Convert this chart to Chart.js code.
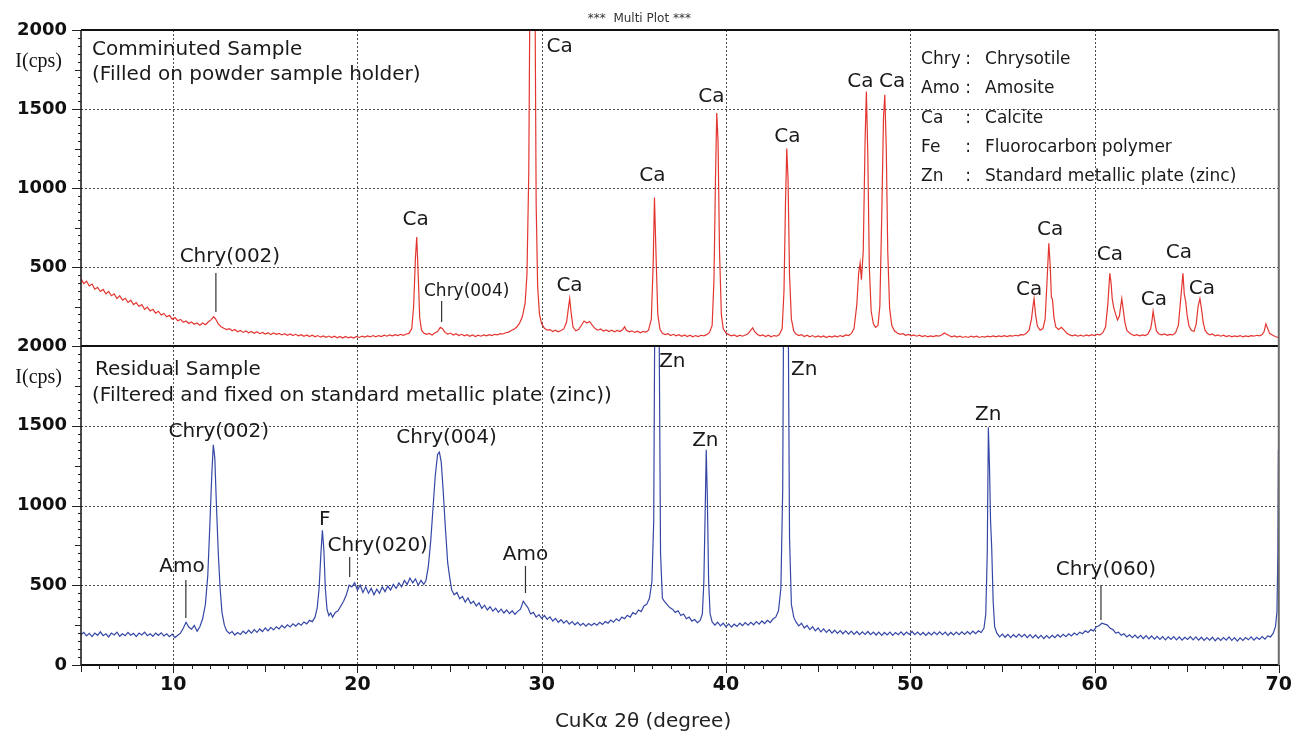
<!DOCTYPE html>
<html><head><meta charset="utf-8">
<script src="https://cdn.jsdelivr.net/npm/chart.js@4.4.1/dist/chart.umd.min.js"></script>
<style>html,body{margin:0;padding:0;background:#fff;}#wrap{width:1301px;height:735px;position:relative;}</style>
</head><body><div id="wrap"><canvas id="c"></canvas></div>
<script>
// ---- Data (2θ in degrees, intensity in cps) ----
const comminutedPattern = [
[5.0,425],[5.15,395],[5.3,410],[5.45,380],[5.6,392],[5.75,360],[5.9,372],[6.05,345],[6.2,358],[6.35,330],[6.5,346],[6.65,318],[6.8,330],[6.95,300],[7.1,318],[7.25,290],[7.4,302],[7.55,276],[7.7,290],[7.85,262],[8.0,275],[8.15,250],[8.3,262],[8.45,232],[8.6,246],[8.75,222],[8.9,232],[9.05,208],[9.2,220],[9.35,196],[9.5,206],[9.65,185],[9.8,194],[9.95,170],[10.1,180],[10.25,160],[10.4,168],[10.55,150],[10.7,158],[10.85,142],[11.0,152],[11.15,138],[11.3,146],[11.45,132],[11.6,145],[11.75,135],[11.9,152],[12.05,165],[12.2,185],[12.3,172],[12.45,140],[12.6,122],[12.75,112],[12.9,104],[13.05,110],[13.2,96],[13.35,104],[13.5,90],[13.65,98],[13.8,86],[13.95,95],[14.1,84],[14.25,92],[14.4,80],[14.55,90],[14.7,78],[14.85,86],[15.0,76],[15.15,84],[15.3,72],[15.45,82],[15.6,74],[15.75,80],[15.9,70],[16.05,78],[16.2,68],[16.35,76],[16.5,66],[16.65,74],[16.8,64],[16.95,72],[17.1,62],[17.25,70],[17.4,60],[17.55,68],[17.7,58],[17.85,66],[18.0,56],[18.15,64],[18.3,55],[18.45,63],[18.6,54],[18.75,62],[18.9,52],[19.05,60],[19.2,50],[19.35,60],[19.5,52],[19.65,58],[19.8,50],[19.95,60],[20.1,54],[20.25,62],[20.4,56],[20.55,64],[20.7,58],[20.85,66],[21.0,58],[21.15,66],[21.3,60],[21.45,68],[21.6,62],[21.75,70],[21.9,64],[22.05,72],[22.2,66],[22.35,74],[22.5,68],[22.65,76],[22.8,80],[22.95,110],[23.05,250],[23.15,560],[23.22,690],[23.3,450],[23.38,180],[23.48,100],[23.6,82],[23.75,74],[23.9,80],[24.05,70],[24.2,82],[24.35,92],[24.5,118],[24.62,110],[24.75,86],[24.9,76],[25.05,82],[25.2,70],[25.35,78],[25.5,66],[25.65,74],[25.8,64],[25.95,72],[26.1,62],[26.25,70],[26.4,60],[26.55,68],[26.7,62],[26.85,70],[27.0,64],[27.15,72],[27.3,66],[27.45,74],[27.6,70],[27.75,78],[27.9,76],[28.05,84],[28.2,88],[28.35,98],[28.5,106],[28.65,120],[28.8,145],[28.95,185],[29.1,270],[29.2,450],[29.3,1100],[29.38,2600],[29.45,5000],[29.55,5000],[29.62,2600],[29.7,900],[29.78,380],[29.88,200],[30.0,140],[30.15,112],[30.3,100],[30.45,104],[30.6,92],[30.75,100],[30.9,90],[31.05,98],[31.2,108],[31.35,150],[31.45,240],[31.52,300],[31.6,210],[31.7,120],[31.85,96],[32.0,104],[32.15,130],[32.3,158],[32.45,145],[32.6,155],[32.75,130],[32.9,110],[33.05,100],[33.2,108],[33.35,94],[33.5,102],[33.65,92],[33.8,100],[33.95,90],[34.1,98],[34.25,92],[34.4,104],[34.5,122],[34.6,100],[34.75,90],[34.9,96],[35.05,86],[35.2,94],[35.35,84],[35.5,92],[35.65,88],[35.8,100],[35.95,170],[36.05,520],[36.12,940],[36.2,600],[36.3,200],[36.42,105],[36.55,80],[36.7,72],[36.85,78],[37.0,66],[37.15,74],[37.3,64],[37.45,72],[37.6,62],[37.75,70],[37.9,60],[38.05,68],[38.2,58],[38.35,66],[38.5,60],[38.65,68],[38.8,64],[38.95,72],[39.1,84],[39.25,130],[39.35,420],[39.43,1050],[39.5,1475],[39.57,1300],[39.65,600],[39.75,200],[39.85,110],[40.0,82],[40.15,72],[40.3,64],[40.45,70],[40.6,60],[40.75,68],[40.9,62],[41.05,70],[41.2,78],[41.35,100],[41.45,115],[41.55,92],[41.7,74],[41.85,64],[42.0,70],[42.15,60],[42.3,68],[42.45,58],[42.6,66],[42.75,62],[42.9,72],[43.05,110],[43.15,350],[43.23,900],[43.3,1250],[43.37,1050],[43.45,450],[43.55,170],[43.68,95],[43.8,75],[43.95,66],[44.1,72],[44.25,60],[44.4,68],[44.55,58],[44.7,66],[44.85,56],[45.0,64],[45.15,56],[45.3,64],[45.45,54],[45.6,62],[45.75,56],[45.9,64],[46.05,58],[46.2,66],[46.35,60],[46.5,70],[46.65,66],[46.8,78],[46.95,110],[47.1,260],[47.2,460],[47.28,525],[47.35,420],[47.45,600],[47.55,1300],[47.62,1610],[47.7,1200],[47.78,500],[47.88,220],[48.0,140],[48.12,118],[48.25,130],[48.35,250],[48.45,800],[48.55,1450],[48.62,1590],[48.7,1250],[48.78,600],[48.88,240],[49.0,130],[49.15,95],[49.3,82],[49.45,74],[49.6,78],[49.75,68],[49.9,74],[50.05,64],[50.2,70],[50.35,62],[50.5,68],[50.65,60],[50.8,66],[50.95,58],[51.1,64],[51.25,60],[51.4,66],[51.55,62],[51.7,70],[51.85,82],[51.95,76],[52.1,66],[52.25,58],[52.4,64],[52.55,56],[52.7,62],[52.85,54],[53.0,60],[53.15,54],[53.3,62],[53.45,56],[53.6,62],[53.75,54],[53.9,60],[54.05,56],[54.2,62],[54.35,58],[54.5,64],[54.65,58],[54.8,64],[54.95,60],[55.1,66],[55.25,60],[55.4,66],[55.55,62],[55.7,68],[55.85,64],[56.0,72],[56.15,70],[56.3,80],[56.45,100],[56.58,170],[56.66,250],[56.72,300],[56.8,200],[56.9,125],[57.05,100],[57.2,110],[57.32,170],[57.42,400],[57.52,650],[57.6,500],[57.66,310],[57.72,295],[57.8,180],[57.9,120],[58.05,104],[58.2,118],[58.35,100],[58.5,80],[58.65,70],[58.8,64],[58.95,70],[59.1,62],[59.25,68],[59.4,62],[59.55,70],[59.7,64],[59.85,72],[60.0,66],[60.15,74],[60.3,70],[60.45,84],[60.6,120],[60.72,260],[60.83,460],[60.9,400],[60.96,300],[61.05,240],[61.15,200],[61.25,165],[61.35,190],[61.48,300],[61.56,230],[61.65,150],[61.75,100],[61.9,82],[62.0,74],[62.15,66],[62.3,72],[62.45,64],[62.6,70],[62.75,66],[62.9,76],[63.05,110],[63.12,160],[63.18,220],[63.26,160],[63.36,95],[63.5,76],[63.65,70],[63.8,76],[63.95,68],[64.1,74],[64.25,70],[64.4,84],[64.55,130],[64.68,300],[64.8,460],[64.87,330],[64.95,280],[65.02,200],[65.12,130],[65.25,100],[65.4,92],[65.52,140],[65.62,250],[65.72,300],[65.8,240],[65.9,150],[66.0,100],[66.12,80],[66.25,70],[66.4,76],[66.55,64],[66.7,70],[66.85,62],[67.0,68],[67.15,60],[67.3,66],[67.45,58],[67.6,64],[67.75,60],[67.9,66],[68.05,58],[68.2,64],[68.35,60],[68.5,66],[68.65,62],[68.8,68],[68.95,64],[69.1,72],[69.2,90],[69.3,140],[69.4,110],[69.5,80],[69.65,70],[69.8,60],[70.0,52]
];
const residualPattern = [
[5.0,190],[5.15,205],[5.3,182],[5.45,198],[5.6,178],[5.75,200],[5.9,186],[6.05,208],[6.2,184],[6.35,196],[6.5,176],[6.65,200],[6.8,188],[6.95,206],[7.1,180],[7.25,196],[7.4,184],[7.55,204],[7.7,186],[7.85,198],[8.0,178],[8.15,200],[8.3,188],[8.45,206],[8.6,184],[8.75,196],[8.9,180],[9.05,200],[9.2,186],[9.35,202],[9.5,182],[9.65,196],[9.8,178],[9.95,194],[10.1,172],[10.25,186],[10.4,200],[10.55,230],[10.7,268],[10.85,238],[11.0,225],[11.15,248],[11.3,212],[11.45,240],[11.6,290],[11.75,380],[11.88,560],[12.0,900],[12.1,1200],[12.18,1380],[12.26,1300],[12.35,1000],[12.45,700],[12.55,480],[12.65,330],[12.78,250],[12.9,215],[13.05,198],[13.2,210],[13.35,188],[13.5,204],[13.65,192],[13.8,212],[13.95,196],[14.1,218],[14.25,200],[14.4,222],[14.55,204],[14.7,226],[14.85,210],[15.0,232],[15.15,214],[15.3,236],[15.45,220],[15.6,240],[15.75,226],[15.9,248],[16.05,232],[16.2,252],[16.35,238],[16.5,258],[16.65,244],[16.8,262],[16.95,250],[17.1,270],[17.25,258],[17.4,280],[17.55,272],[17.7,300],[17.82,360],[17.92,480],[18.02,700],[18.1,845],[18.18,720],[18.26,480],[18.35,350],[18.45,310],[18.55,326],[18.65,300],[18.8,330],[18.95,340],[19.1,370],[19.25,400],[19.4,440],[19.55,500],[19.7,490],[19.85,515],[20.0,470],[20.15,500],[20.3,455],[20.45,490],[20.6,450],[20.75,480],[20.9,440],[21.05,475],[21.2,450],[21.35,490],[21.5,460],[21.65,495],[21.8,470],[21.95,505],[22.1,480],[22.25,515],[22.4,490],[22.55,530],[22.7,505],[22.85,545],[23.0,515],[23.15,540],[23.3,500],[23.45,530],[23.6,505],[23.72,530],[23.85,620],[23.98,780],[24.1,980],[24.22,1180],[24.35,1320],[24.45,1335],[24.55,1270],[24.65,1100],[24.78,850],[24.9,640],[25.02,540],[25.12,470],[25.25,440],[25.4,455],[25.55,415],[25.7,430],[25.85,395],[26.0,420],[26.15,385],[26.3,400],[26.45,370],[26.6,390],[26.75,355],[26.9,375],[27.05,345],[27.2,365],[27.35,338],[27.5,356],[27.65,330],[27.8,350],[27.95,326],[28.1,345],[28.25,322],[28.4,340],[28.55,318],[28.7,336],[28.85,350],[29.0,400],[29.12,380],[29.25,360],[29.4,320],[29.55,330],[29.7,300],[29.85,316],[30.0,292],[30.15,310],[30.3,286],[30.45,302],[30.6,276],[30.75,292],[30.9,268],[31.05,284],[31.2,262],[31.35,278],[31.5,256],[31.65,272],[31.8,252],[31.95,268],[32.1,248],[32.25,262],[32.4,244],[32.55,260],[32.7,248],[32.85,262],[33.0,250],[33.15,268],[33.3,254],[33.45,272],[33.6,262],[33.75,282],[33.9,268],[34.05,290],[34.2,276],[34.35,300],[34.5,290],[34.65,312],[34.8,300],[34.95,328],[35.1,318],[35.25,345],[35.4,335],[35.55,370],[35.7,380],[35.85,420],[35.98,520],[36.08,900],[36.15,2500],[36.22,4500],[36.3,4500],[36.37,2200],[36.45,700],[36.55,420],[36.65,400],[36.8,380],[36.95,360],[37.1,350],[37.25,330],[37.4,340],[37.55,310],[37.7,320],[37.85,290],[38.0,300],[38.15,275],[38.3,285],[38.45,265],[38.6,280],[38.72,320],[38.8,520],[38.87,950],[38.93,1350],[38.99,1050],[39.06,520],[39.14,320],[39.25,270],[39.4,250],[39.55,268],[39.7,245],[39.85,262],[40.0,240],[40.15,258],[40.3,238],[40.45,256],[40.6,242],[40.75,262],[40.9,246],[41.05,266],[41.2,250],[41.35,268],[41.5,252],[41.65,272],[41.8,256],[41.95,276],[42.1,260],[42.25,280],[42.4,266],[42.55,288],[42.7,300],[42.85,340],[42.98,480],[43.08,1100],[43.15,2800],[43.22,4500],[43.3,4500],[43.37,2400],[43.45,800],[43.55,380],[43.68,300],[43.8,270],[43.95,245],[44.1,262],[44.25,232],[44.4,248],[44.55,222],[44.7,240],[44.85,214],[45.0,232],[45.15,208],[45.3,226],[45.45,204],[45.6,222],[45.75,200],[45.9,218],[46.05,198],[46.2,216],[46.35,196],[46.5,214],[46.65,194],[46.8,212],[46.95,192],[47.1,210],[47.25,190],[47.4,208],[47.55,192],[47.7,210],[47.85,190],[48.0,206],[48.15,188],[48.3,206],[48.45,186],[48.6,204],[48.75,188],[48.9,206],[49.05,186],[49.2,204],[49.35,190],[49.5,208],[49.65,188],[49.8,206],[49.95,192],[50.1,210],[50.25,190],[50.4,206],[50.55,188],[50.7,204],[50.85,186],[51.0,204],[51.15,188],[51.3,206],[51.45,190],[51.6,208],[51.75,190],[51.9,206],[52.05,186],[52.2,204],[52.35,188],[52.5,206],[52.65,190],[52.8,208],[52.95,192],[53.1,210],[53.25,194],[53.4,212],[53.55,196],[53.7,214],[53.85,204],[54.0,230],[54.1,320],[54.18,700],[54.24,1490],[54.3,1250],[54.36,900],[54.42,740],[54.5,400],[54.58,240],[54.7,200],[54.85,176],[55.0,194],[55.15,174],[55.3,192],[55.45,172],[55.6,190],[55.75,174],[55.9,194],[56.05,176],[56.2,192],[56.35,172],[56.5,190],[56.65,170],[56.8,188],[56.95,168],[57.1,186],[57.25,166],[57.4,184],[57.55,168],[57.7,186],[57.85,172],[58.0,190],[58.15,174],[58.3,192],[58.45,178],[58.6,196],[58.75,182],[58.9,200],[59.05,188],[59.2,206],[59.35,196],[59.5,214],[59.65,204],[59.8,222],[59.95,214],[60.1,240],[60.25,246],[60.4,262],[60.55,256],[60.7,250],[60.85,230],[61.0,222],[61.15,200],[61.3,206],[61.45,186],[61.6,196],[61.75,176],[61.9,190],[62.05,172],[62.2,188],[62.35,168],[62.5,186],[62.65,166],[62.8,184],[62.95,164],[63.1,182],[63.25,162],[63.4,180],[63.55,160],[63.7,178],[63.85,158],[64.0,176],[64.15,160],[64.3,178],[64.45,158],[64.6,176],[64.75,156],[64.9,174],[65.05,160],[65.2,178],[65.35,158],[65.5,176],[65.65,156],[65.8,174],[65.95,154],[66.1,172],[66.25,156],[66.4,174],[66.55,152],[66.7,170],[66.85,154],[67.0,172],[67.15,156],[67.3,176],[67.45,154],[67.6,172],[67.75,150],[67.9,170],[68.05,154],[68.2,172],[68.35,158],[68.5,176],[68.65,156],[68.8,174],[68.95,160],[69.1,178],[69.25,162],[69.4,182],[69.55,176],[69.7,200],[69.82,240],[69.9,330],[69.95,700],[69.98,1350],[70.0,1350]
];

// ---- Axes ----
const xTickValues = [10, 20, 30, 40, 50, 60, 70];
const xGridValues = [10, 20, 30, 40, 50, 60];
const topYTickValues = [500, 1000, 1500, 1800, 2000];
const topYTickLabels = ['500', '1000', '1500', 'I(cps) ', '2000'];
const bottomYTickValues = [0, 500, 1000, 1500, 1800, 2000];
const bottomYTickLabels = ['0', '500', '1000', '1500', 'I(cps) ', '2000'];
const yGridValues = [500, 1000, 1500];
const chartTitle = '***  Multi Plot ***';
const chartTitleTheta = 35.3;
const xAxisTitle = 'CuKα 2θ (degree)';
const xAxisTitleTheta = 35.5;

// ---- Annotations (θ, cps) ----
const topPanelText = [['Comminuted Sample', 5.60, 1873], ['(Filled on powder sample holder)', 5.60, 1715]];
const bottomPanelText = [['Residual Sample', 5.76, 1850], ['(Filtered and fixed on standard metallic plate (zinc))', 5.60, 1687]];
const topLabelText = ['Chry(002)', 'Ca', 'Chry(004)', 'Ca', 'Ca', 'Ca', 'Ca', 'Ca', 'Ca', 'Ca', 'Ca', 'Ca', 'Ca', 'Ca', 'Ca', 'Ca'];
const topLabelTheta = [13.08, 23.16, 25.93, 30.97, 31.51, 36.01, 39.21, 43.33, 47.29, 49.02, 56.45, 57.59, 60.84, 63.22, 64.58, 65.83];
const topLabelCounts = [566, 797, 342, 1892, 380, 1076, 1576, 1323, 1671, 1671, 354, 734, 576, 291, 589, 361];
const topLabelSize = [20, 20, 17, 20, 20, 20, 20, 20, 20, 20, 20, 20, 20, 20, 20, 20];
const bottomLabelText = ['Chry(002)', 'Chry(004)', 'Amo', 'F', 'Chry(020)', 'Amo', 'Zn', 'Zn', 'Zn', 'Zn', 'Chry(060)'];
const bottomLabelTheta = [12.48, 24.84, 10.48, 18.23, 21.10, 29.12, 37.09, 38.88, 44.25, 54.23, 60.62];
const bottomLabelCounts = [1461, 1423, 614, 909, 746, 690, 1900, 1404, 1850, 1567, 596];
const topMarkers = [[12.32, 215, 462], [24.57, 152, 285]];
const bottomMarkers = [[10.69, 295, 533], [19.58, 552, 677], [29.12, 451, 621], [60.35, 282, 502]];
const legendAbbr = ['Chry', 'Amo', 'Ca', 'Fe', 'Zn'];
const legendName = ['Chrysotile', 'Amosite', 'Calcite', 'Fluorocarbon polymer', 'Standard metallic plate (zinc)'];
const legendCounts = [1810, 1627, 1437, 1253, 1070];
const legendTheta = [50.59, 53.14, 54.06];

const FONT = 'DejaVu Sans';

function line(ctx, x1, y1, x2, y2) { ctx.beginPath(); ctx.moveTo(x1, y1); ctx.lineTo(x2, y2); ctx.stroke(); }
function txt(ctx, s, px, py, size, align, color, family, weight) {
  ctx.save();
  ctx.font = (weight || 'normal') + ' ' + size + 'px "' + (family || FONT) + '"';
  ctx.fillStyle = color || '#1a1a1a';
  ctx.textAlign = align || 'center';
  ctx.textBaseline = 'middle';
  ctx.fillText(s, px, py);
  ctx.restore();
}

const decor = {
  id: 'decor',
  beforeDatasetsDraw(chart) {
    const { ctx, chartArea: a, scales } = chart;
    const x = scales.x;
    ctx.save();
    ctx.strokeStyle = '#4a4a4a'; ctx.lineWidth = 1; ctx.setLineDash([2, 2]);
    for (const v of xGridValues) { const px = Math.round(x.getPixelForValue(v)) + 0.5; line(ctx, px, a.top, px, a.bottom); }
    for (const s of [scales.yTop, scales.yBot]) for (const v of yGridValues) {
      const py = Math.round(s.getPixelForValue(v)) + 0.5; line(ctx, a.left, py, a.right, py);
    }
    ctx.restore();
  },
  afterDatasetsDraw(chart) {
    const { ctx, chartArea: a, scales } = chart;
    const x = scales.x, yT = scales.yTop, yB = scales.yBot;
    ctx.save();
    ctx.setLineDash([]);
    ctx.strokeStyle = '#111'; ctx.lineWidth = 2;
    line(ctx, a.left, a.top, a.right, a.top);
    line(ctx, a.left, yT.bottom, a.right, yT.bottom);
    line(ctx, a.left, a.bottom, a.right, a.bottom);
    ctx.lineWidth = 1.5; line(ctx, a.left, a.top, a.left, a.bottom + 1);
    ctx.strokeStyle = '#6a6a6a'; ctx.lineWidth = 2; line(ctx, a.right, a.top, a.right, a.bottom);
    ctx.strokeStyle = '#222'; ctx.lineWidth = 1;
    for (const s of [yT, yB]) for (let v = 0; v <= 2000; v += 50) {
      if (s === yT && v === 0) continue;
      const len = v % 500 === 0 ? 9 : (v % 250 === 0 ? 6 : 3);
      const py = Math.round(s.getPixelForValue(v)) + 0.5;
      line(ctx, a.left - len, py, a.left, py);
    }
    for (let t = 5; t <= 70; t++) {
      const len = t % 10 === 0 ? 8 : (t % 5 === 0 ? 7 : 4);
      const px = Math.round(x.getPixelForValue(t)) + 0.5;
      line(ctx, px, a.bottom, px, a.bottom + len);
    }
    ctx.strokeStyle = '#333'; ctx.lineWidth = 1.2;
    for (const m of topMarkers) { const px = x.getPixelForValue(m[0]); line(ctx, px, yT.getPixelForValue(m[1]), px, yT.getPixelForValue(m[2])); }
    for (const m of bottomMarkers) { const px = x.getPixelForValue(m[0]); line(ctx, px, yB.getPixelForValue(m[1]), px, yB.getPixelForValue(m[2])); }
    ctx.restore();
    topLabelText.forEach((s, i) => txt(ctx, s, x.getPixelForValue(topLabelTheta[i]), yT.getPixelForValue(topLabelCounts[i]), topLabelSize[i]));
    bottomLabelText.forEach((s, i) => txt(ctx, s, x.getPixelForValue(bottomLabelTheta[i]), yB.getPixelForValue(bottomLabelCounts[i]), 20));
    for (const p of topPanelText) txt(ctx, p[0], x.getPixelForValue(p[1]), yT.getPixelForValue(p[2]), 20, 'left');
    for (const p of bottomPanelText) txt(ctx, p[0], x.getPixelForValue(p[1]), yB.getPixelForValue(p[2]), 20, 'left');
    legendAbbr.forEach((s, i) => {
      const py = yT.getPixelForValue(legendCounts[i]);
      txt(ctx, s, x.getPixelForValue(legendTheta[0]), py, 17, 'left');
      txt(ctx, ':', x.getPixelForValue(legendTheta[1]), py, 17, 'center');
      txt(ctx, legendName[i], x.getPixelForValue(legendTheta[2]), py, 17, 'left');
    });
  },
  afterDraw(chart) {
    const { ctx, scales } = chart;
    txt(ctx, chartTitle, scales.x.getPixelForValue(chartTitleTheta), 19, 12, 'center', '#333');
    txt(ctx, xAxisTitle, scales.x.getPixelForValue(xAxisTitleTheta), 722, 20, 'center', '#222');
  }
};

const yTickFont = (ctx) => (ctx.tick && ctx.tick.value === 1800)
  ? { family: 'Liberation Serif', size: 20, weight: 'normal' }
  : { family: FONT, size: 18, weight: 'bold' };

new Chart(document.getElementById('c'), {
  type: 'line',
  data: {
    datasets: [
      { label: 'Comminuted Sample', data: comminutedPattern.map(p => ({ x: p[0], y: p[1] })), xAxisID: 'x', yAxisID: 'yTop',
        borderColor: 'rgba(226,42,36,0.95)', borderWidth: 1.2, pointRadius: 0, tension: 0, fill: false },
      { label: 'Residual Sample', data: residualPattern.map(p => ({ x: p[0], y: p[1] })), xAxisID: 'x', yAxisID: 'yBot',
        borderColor: '#3547a6', borderWidth: 1.2, pointRadius: 0, tension: 0, fill: false }
    ]
  },
  options: {
    responsive: true, maintainAspectRatio: false, animation: false, devicePixelRatio: 1,
    layout: { padding: { top: 30, right: 21, left: 0, bottom: 0 } },
    plugins: { legend: { display: false }, tooltip: { enabled: false }, title: { display: false } },
    scales: {
      x: {
        type: 'linear', position: 'bottom', min: 5, max: 70,
        grid: { display: false, drawTicks: false }, border: { display: false },
        ticks: { autoSkip: false, maxRotation: 0, padding: 9, color: '#111', font: { family: FONT, size: 19, weight: 'bold' }, callback: v => String(v) },
        afterBuildTicks: s => { s.ticks = xTickValues.map(v => ({ value: v })); },
        afterFit: s => { s.height = 70; }
      },
      yBot: {
        type: 'linear', position: 'left', stack: 'panels', stackWeight: 319, min: 0, max: 2000,
        grid: { display: false, drawTicks: false }, border: { display: false },
        ticks: { autoSkip: false, padding: 14, color: '#111', font: yTickFont, callback: (v, i) => bottomYTickLabels[i] },
        afterBuildTicks: s => { s.ticks = bottomYTickValues.map(v => ({ value: v })); },
        afterFit: s => { s.width = 81; }
      },
      yTop: {
        type: 'linear', position: 'left', stack: 'panels', stackWeight: 316, min: 0, max: 2000,
        grid: { display: false, drawTicks: false }, border: { display: false },
        ticks: { autoSkip: false, padding: 14, color: '#111', font: yTickFont, callback: (v, i) => topYTickLabels[i] },
        afterBuildTicks: s => { s.ticks = topYTickValues.map(v => ({ value: v })); },
        afterFit: s => { s.width = 81; }
      }
    }
  },
  plugins: [decor]
});
</script>
</body></html>
